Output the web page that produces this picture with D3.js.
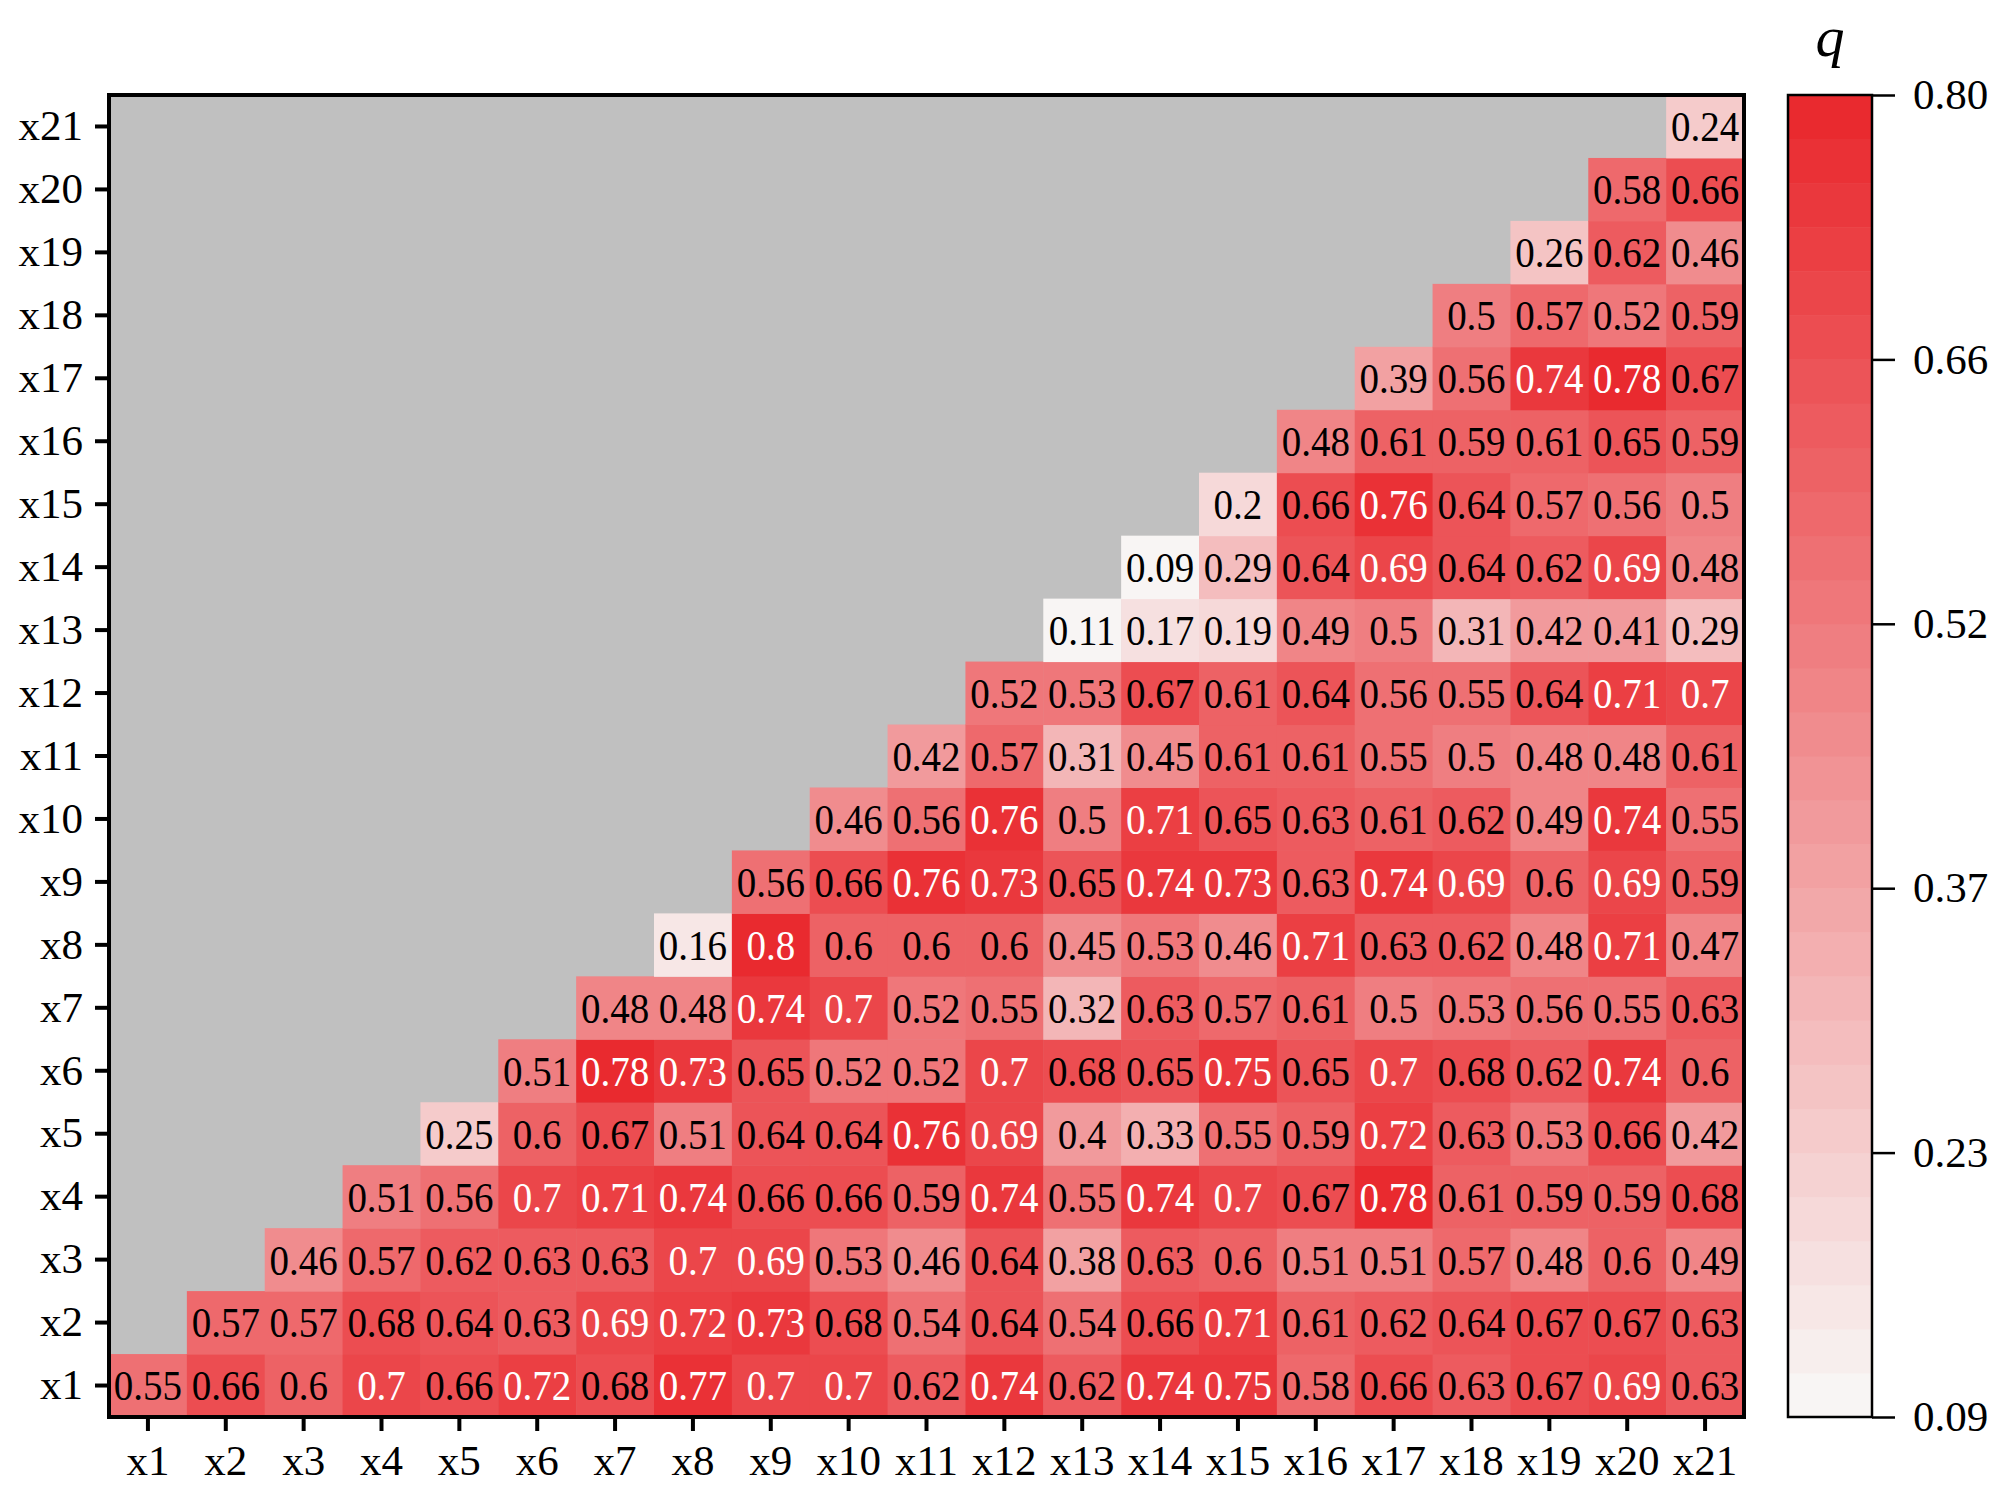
<!DOCTYPE html>
<html>
<head>
<meta charset="utf-8">
<script src="https://cdn.jsdelivr.net/npm/d3@7/dist/d3.min.js"></script>
<style>
  html, body { margin: 0; padding: 0; background: #fff; }
  svg { display: block; }
  text { font-family: "Liberation Serif", "Times New Roman", serif; }
</style>
</head>
<body>
<svg id="chart" width="2010" height="1492"></svg>
<script>
// ---------- DATA ----------
const factors = ["x1","x2","x3","x4","x5","x6","x7","x8","x9","x10","x11","x12","x13","x14","x15","x16","x17","x18","x19","x20","x21"];

// Row xi holds q for columns xi ... x21
const row_x1  = [0.55,0.66,0.6,0.7,0.66,0.72,0.68,0.77,0.7,0.7,0.62,0.74,0.62,0.74,0.75,0.58,0.66,0.63,0.67,0.69,0.63];
const row_x2  = [0.57,0.57,0.68,0.64,0.63,0.69,0.72,0.73,0.68,0.54,0.64,0.54,0.66,0.71,0.61,0.62,0.64,0.67,0.67,0.63];
const row_x3  = [0.46,0.57,0.62,0.63,0.63,0.7,0.69,0.53,0.46,0.64,0.38,0.63,0.6,0.51,0.51,0.57,0.48,0.6,0.49];
const row_x4  = [0.51,0.56,0.7,0.71,0.74,0.66,0.66,0.59,0.74,0.55,0.74,0.7,0.67,0.78,0.61,0.59,0.59,0.68];
const row_x5  = [0.25,0.6,0.67,0.51,0.64,0.64,0.76,0.69,0.4,0.33,0.55,0.59,0.72,0.63,0.53,0.66,0.42];
const row_x6  = [0.51,0.78,0.73,0.65,0.52,0.52,0.7,0.68,0.65,0.75,0.65,0.7,0.68,0.62,0.74,0.6];
const row_x7  = [0.48,0.48,0.74,0.7,0.52,0.55,0.32,0.63,0.57,0.61,0.5,0.53,0.56,0.55,0.63];
const row_x8  = [0.16,0.8,0.6,0.6,0.6,0.45,0.53,0.46,0.71,0.63,0.62,0.48,0.71,0.47];
const row_x9  = [0.56,0.66,0.76,0.73,0.65,0.74,0.73,0.63,0.74,0.69,0.6,0.69,0.59];
const row_x10 = [0.46,0.56,0.76,0.5,0.71,0.65,0.63,0.61,0.62,0.49,0.74,0.55];
const row_x11 = [0.42,0.57,0.31,0.45,0.61,0.61,0.55,0.5,0.48,0.48,0.61];
const row_x12 = [0.52,0.53,0.67,0.61,0.64,0.56,0.55,0.64,0.71,0.7];
const row_x13 = [0.11,0.17,0.19,0.49,0.5,0.31,0.42,0.41,0.29];
const row_x14 = [0.09,0.29,0.64,0.69,0.64,0.62,0.69,0.48];
const row_x15 = [0.2,0.66,0.76,0.64,0.57,0.56,0.5];
const row_x16 = [0.48,0.61,0.59,0.61,0.65,0.59];
const row_x17 = [0.39,0.56,0.74,0.78,0.67];
const row_x18 = [0.5,0.57,0.52,0.59];
const row_x19 = [0.26,0.62,0.46];
const row_x20 = [0.58,0.66];
const row_x21 = [0.24];

const rows = [row_x1,row_x2,row_x3,row_x4,row_x5,row_x6,row_x7,row_x8,row_x9,row_x10,
              row_x11,row_x12,row_x13,row_x14,row_x15,row_x16,row_x17,row_x18,row_x19,row_x20,row_x21];

const qMin = 0.09, qMax = 0.80;
const colorbarTicks = [0.09, 0.232, 0.374, 0.516, 0.658, 0.80];
const colorbarTitle = "q";

// ---------- LAYOUT ----------
const svg = d3.select("#chart");
const plot = { left: 109, right: 1744, top: 95, bottom: 1417 };
const cb = { left: 1788, right: 1872, top: 95, bottom: 1417 };
const nBands = 30;
const serif = "Liberation Serif, Times New Roman, serif";

const x = d3.scaleBand().domain(factors).range([plot.left, plot.right]);
const y = d3.scaleBand().domain(factors.slice().reverse()).range([plot.top, plot.bottom]);

const lowColor = "#F8F5F4", highColor = "#E92A2F";
const interp = d3.interpolateRgb(lowColor, highColor);
const bandColors = d3.range(nBands).map(i => interp(i / (nBands - 1)));
const color = d3.scaleQuantize().domain([qMin, qMax]).range(bandColors);

// flatten cells
const cells = [];
rows.forEach((vals, i) => {
  vals.forEach((v, k) => {
    cells.push({ row: factors[i], col: factors[i + k], v });
  });
});

// background
svg.append("rect")
  .attr("x", plot.left).attr("y", plot.top)
  .attr("width", plot.right - plot.left).attr("height", plot.bottom - plot.top)
  .attr("fill", "#C0C0C0");

const g = svg.append("g");
g.selectAll("rect.cell").data(cells).join("rect")
  .attr("class", "cell")
  .attr("x", d => x(d.col))
  .attr("y", d => y(d.row))
  .attr("width", x.bandwidth() + 0.5)
  .attr("height", y.bandwidth() + 0.5)
  .attr("fill", d => color(d.v));

g.selectAll("text.val").data(cells).join("text")
  .attr("class", "val")
  .attr("transform", d => `translate(${x(d.col) + x.bandwidth() / 2},${y(d.row) + y.bandwidth() / 2 + 1}) scale(1,1.06)`)
  .attr("text-anchor", "middle")
  .attr("dominant-baseline", "central")
  .attr("font-size", 39)
  .attr("fill", d => d.v >= 0.69 ? "#ffffff" : "#000000")
  .text(d => String(d.v));

// frame
svg.append("rect")
  .attr("x", plot.left).attr("y", plot.top)
  .attr("width", plot.right - plot.left).attr("height", plot.bottom - plot.top)
  .attr("fill", "none").attr("stroke", "#000").attr("stroke-width", 4);

// axes
const yAxis = svg.append("g")
  .attr("transform", `translate(${plot.left - 2},0)`)
  .call(d3.axisLeft(y).tickSize(12).tickSizeOuter(0).tickPadding(12));
yAxis.select(".domain").remove();
yAxis.selectAll(".tick line").attr("stroke", "#000").attr("stroke-width", 4);
yAxis.selectAll(".tick text").attr("font-size", 43).attr("fill", "#000")
  .attr("font-family", serif);

const xAxis = svg.append("g")
  .attr("transform", `translate(0,${plot.bottom + 2})`)
  .call(d3.axisBottom(x).tickSize(12).tickSizeOuter(0).tickPadding(13));
xAxis.select(".domain").remove();
xAxis.selectAll(".tick line").attr("stroke", "#000").attr("stroke-width", 4);
xAxis.selectAll(".tick text").attr("font-size", 43).attr("fill", "#000")
  .attr("font-family", serif);

// ---------- COLORBAR ----------
const cbScale = d3.scaleLinear().domain([qMin, qMax]).range([cb.bottom, cb.top]);
const bandStep = (qMax - qMin) / nBands;
const bands = d3.range(nBands).map(i => ({ lo: qMin + i * bandStep, hi: qMin + (i + 1) * bandStep, c: bandColors[i] }));
svg.append("g").selectAll("rect").data(bands).join("rect")
  .attr("x", cb.left)
  .attr("y", d => cbScale(d.hi))
  .attr("width", cb.right - cb.left)
  .attr("height", d => cbScale(d.lo) - cbScale(d.hi) + 0.5)
  .attr("fill", d => d.c);

svg.append("rect")
  .attr("x", cb.left).attr("y", cb.top)
  .attr("width", cb.right - cb.left).attr("height", cb.bottom - cb.top)
  .attr("fill", "none").attr("stroke", "#000").attr("stroke-width", 2.5);

const cbAxis = svg.append("g")
  .attr("transform", `translate(${cb.right},0)`)
  .call(d3.axisRight(cbScale).tickValues(colorbarTicks).tickFormat(d3.format(".2f"))
        .tickSize(23).tickSizeOuter(0).tickPadding(18));
cbAxis.select(".domain").remove();
cbAxis.selectAll(".tick line").attr("stroke", "#000").attr("stroke-width", 2.5);
cbAxis.selectAll(".tick text").attr("font-size", 43).attr("fill", "#000")
  .attr("font-family", serif);

svg.append("text")
  .attr("x", (cb.left + cb.right) / 2)
  .attr("y", 56)
  .attr("text-anchor", "middle")
  .attr("font-size", 58)
  .attr("font-style", "italic")
  .attr("fill", "#000")
  .text(colorbarTitle);
</script>
</body>
</html>
